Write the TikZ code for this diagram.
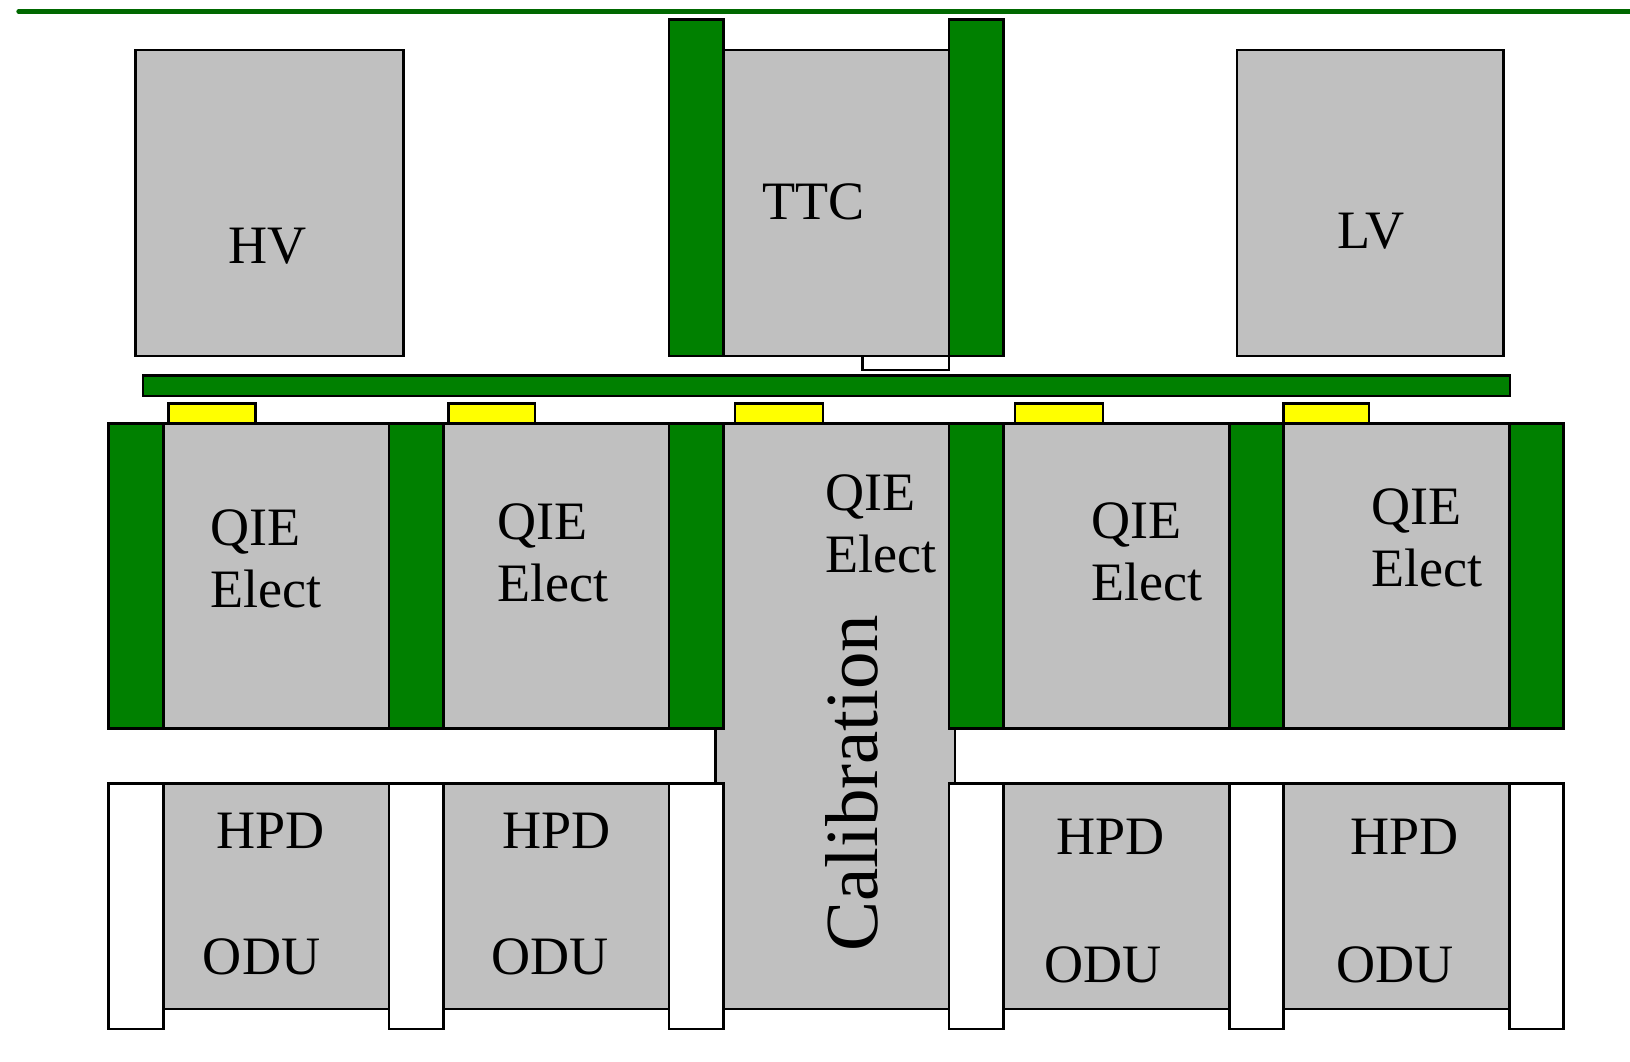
\documentclass[tikz,border=0pt]{standalone}
\usepackage{fontspec}
\setmainfont{Liberation Serif}
\usepackage{tikz}
\usepackage{xcolor}
\usetikzlibrary{positioning}

\definecolor{boardgreen}{RGB}{0,128,0}
\definecolor{rulegreen}{RGB}{0,104,0}
\definecolor{boxgray}{RGB}{192,192,192}
\definecolor{padyellow}{RGB}{255,255,0}

\begin{document}
\begin{tikzpicture}[
  x=0.01cm, y=-0.01cm,
  box/.style={draw=black, line width=0.75pt, fill=boxgray},
  card/.style={draw=black, line width=0.75pt, fill=boardgreen},
  spacer/.style={draw=black, line width=0.75pt, fill=white},
  pad/.style={draw=black, line width=0.75pt, fill=padyellow},
  lbl/.style={inner sep=0pt, font=\fontsize{14.8pt}{17pt}\selectfont},
]
  \useasboundingbox (0,0) rectangle (1568,1021.6);

  % top rule
  \draw[rulegreen, line width=1.3pt, line cap=round] (18,11) -- (1580,11);

  % HV, TTC and LV crates
  \draw[box] (130,48) rectangle (388,342.5);
  \node[lbl, anchor=base] (hv) at (257.5,253) {HV};
  \draw[box] (696,48) rectangle (913,342.5);
  \draw[card] (643.5,19) rectangle (696,342.5);
  \draw[card] (913,19) rectangle (965,342.5);
  \draw[spacer] (830,342.5) rectangle (913,356);
  \node[lbl, anchor=base] (ttc) at (783,211.6) {TTC};
  \draw[box] (1190,48) rectangle (1446,342.5);
  \node[lbl, anchor=base] (lv) at (1319,239) {LV};

  % backplane and connectors
  \draw[card] (137.5,361.5) rectangle (1452.5,381);
  \draw[pad] (162,388.3) rectangle (245.5,407.2);
  \draw[pad] (431.7,388.3) rectangle (514.7,407.2);
  \draw[pad] (707,388.3) rectangle (791.7,407.2);
  \draw[pad] (976.4,388.3) rectangle (1061,407.2);
  \draw[pad] (1234.5,388.3) rectangle (1317,407.2);

  % calibration module in the middle
  \draw[box] (688,407.2) rectangle (918.6,970.5);
  \node[lbl, font=\fontsize{20.5pt}{24pt}\selectfont, rotate=90, anchor=base]
    (calib) at (844,753.5) {Calibration};

  % QIE row
  \draw[box] (157,407.2) rectangle (374.3,701.1);
  \draw[box] (426.7,407.2) rectangle (643.5,701.1);
  \draw[box] (965.3,407.2) rectangle (1182.8,701.1);
  \draw[box] (1234.5,407.2) rectangle (1452.4,701.1);
  \draw[card] (104.7,407.2) rectangle (157,701.1);
  \draw[card] (374.3,407.2) rectangle (426.7,701.1);
  \draw[card] (643.5,407.2) rectangle (696,701.1);
  \draw[card] (913,407.2) rectangle (965.3,701.1);
  \draw[card] (1182.8,407.2) rectangle (1234.5,701.1);
  \draw[card] (1452.4,407.2) rectangle (1503.7,701.1);
  % base is the baseline of the last line
  \node[lbl, align=left, anchor=base west] (qie1) at (202,584.3) {QIE\\Elect};
  \node[lbl, align=left, anchor=base west] (qie2) at (478,578.6) {QIE\\Elect};
  \node[lbl, align=left, anchor=base west] (qie3) at (793.3,551) {QIE\\Elect};
  \node[lbl, align=left, anchor=base west] (qie4) at (1049.4,577.9) {QIE\\Elect};
  \node[lbl, align=left, anchor=base west] (qie5) at (1318.6,564) {QIE\\Elect};

  % HPD row
  \draw[box] (157,753.8) rectangle (374.3,970.5);
  \draw[box] (426.7,753.8) rectangle (643.5,970.5);
  \draw[box] (965.3,753.8) rectangle (1182.8,970.5);
  \draw[box] (1234.5,753.8) rectangle (1452.4,970.5);
  \draw[spacer] (104.7,753.8) rectangle (157,989.9);
  \draw[spacer] (374.3,753.8) rectangle (426.7,989.9);
  \draw[spacer] (643.5,753.8) rectangle (696,989.9);
  \draw[spacer] (913,753.8) rectangle (965.3,989.9);
  \draw[spacer] (1182.8,753.8) rectangle (1234.5,989.9);
  \draw[spacer] (1452.4,753.8) rectangle (1503.7,989.9);
  \node[lbl, anchor=base] (hpd1) at (260.3,816.7) {HPD};
  \node[lbl, anchor=base] (odu1) at (251.6,937.2) {ODU};
  \node[lbl, anchor=base] (hpd2) at (535.4,816.7) {HPD};
  \node[lbl, anchor=base] (odu2) at (528.8,937.2) {ODU};
  \node[lbl, anchor=base] (hpd4) at (1068.5,822) {HPD};
  \node[lbl, anchor=base] (odu4) at (1061,945.3) {ODU};
  \node[lbl, anchor=base] (hpd5) at (1351.5,822) {HPD};
  \node[lbl, anchor=base] (odu5) at (1341.8,945.3) {ODU};
\end{tikzpicture}
\end{document}
